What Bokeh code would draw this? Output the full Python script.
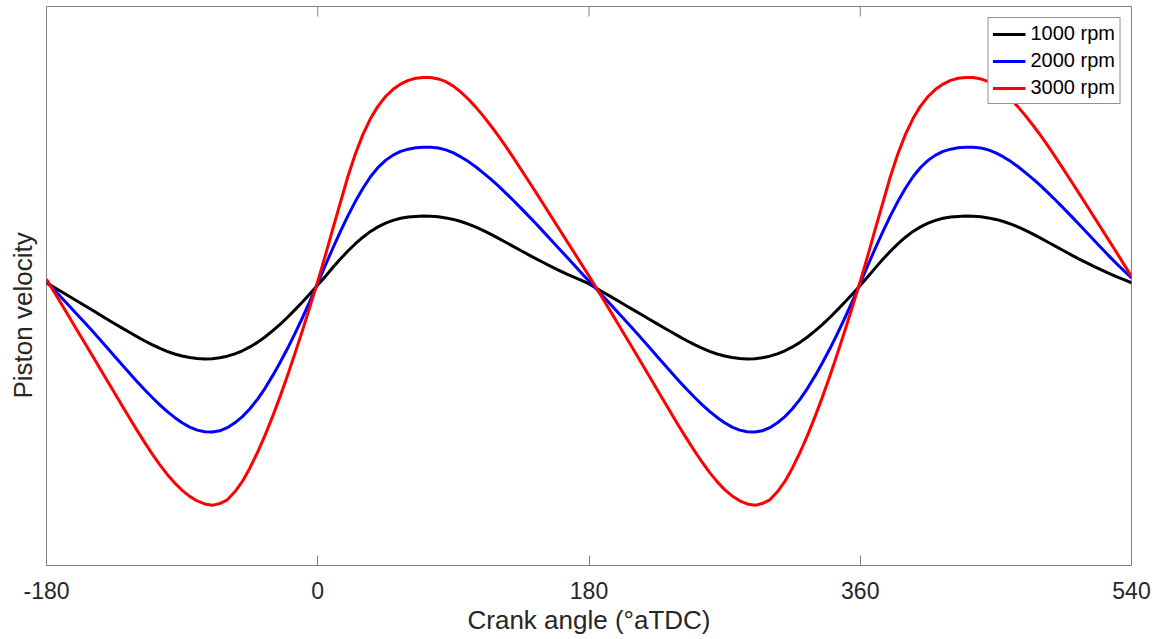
from bokeh.plotting import figure
from bokeh.models import Range1d, FixedTicker, Legend, LegendItem
from bokeh.embed import file_html
from bokeh.resources import INLINE

# ---- data (5 degree steps) ----
crank_angle = list(range(-180, 541, 5))

# 1000 rpm : first cycle -180..180, second cycle 185..540
vel_1000_a = [0.2, -0.12, -0.45, -0.78, -1.1, -1.43, -1.76, -2.09, -2.42, -2.75,
              -3.07, -3.39, -3.7, -4.0, -4.28, -4.54, -4.77, -4.96, -5.11, -5.22,
              -5.29, -5.32, -5.3,
              -5.24, -5.12, -4.95, -4.73, -4.45, -4.12, -3.73, -3.29, -2.81, -2.3,
              -1.75, -1.18, -0.58, 0.03,
              0.66, 1.3, 1.92, 2.5, 3.03, 3.5, 3.92, 4.25, 4.52, 4.72,
              4.87, 4.96, 5.01, 5.03, 5.02, 4.98, 4.9, 4.79,
              4.64, 4.45, 4.23, 3.98, 3.71, 3.42, 3.12, 2.82, 2.52, 2.22,
              1.93, 1.65, 1.37, 1.1, 0.84, 0.6, 0.37, 0.12]
vel_1000_b = [-0.2, -0.52, -0.84, -1.16, -1.48, -1.8, -2.12, -2.44, -2.76, -3.08,
              -3.39, -3.7, -4.0, -4.28, -4.54, -4.77, -4.96, -5.11, -5.22, -5.29,
              -5.32, -5.3, -5.24, -5.12, -4.95, -4.73, -4.45, -4.12, -3.73, -3.29,
              -2.81, -2.3, -1.75, -1.18, -0.59, 0.0,
              0.64, 1.28, 1.9, 2.48, 3.02, 3.5, 3.92, 4.25, 4.52, 4.72,
              4.87, 4.96, 5.01, 5.03, 5.02, 4.98, 4.9, 4.79, 4.64, 4.45,
              4.23, 3.98, 3.71, 3.42, 3.12, 2.82, 2.52, 2.22, 1.93, 1.66,
              1.39, 1.13, 0.88, 0.64, 0.42, 0.2]

# 2000 rpm
vel_2000_a = [0.27, -0.3, -0.88, -1.47, -2.06, -2.65, -3.25, -3.86, -4.48, -5.1,
              -5.72, -6.34, -6.95, -7.54, -8.1, -8.63, -9.12, -9.56, -9.95, -10.26,
              -10.48, -10.6, -10.62,
              -10.53, -10.3, -9.95, -9.5, -8.93, -8.25, -7.45, -6.55, -5.58, -4.55,
              -3.45, -2.3, -1.1, 0.17,
              1.45, 2.7, 3.9, 5.05, 6.1, 7.05, 7.88, 8.55, 9.07, 9.45,
              9.72, 9.88, 9.98, 10.02, 10.02, 9.96, 9.83, 9.61,
              9.32, 8.98, 8.59, 8.15, 7.69, 7.2, 6.68, 6.14, 5.59, 5.03,
              4.46, 3.87, 3.28, 2.69, 2.1, 1.5, 0.9, 0.33]
vel_2000_b = [-0.27, -0.86, -1.45, -2.05, -2.65, -3.25, -3.86, -4.48, -5.1, -5.72,
              -6.34, -6.95, -7.54, -8.1, -8.63, -9.12, -9.56, -9.95, -10.26, -10.48,
              -10.6, -10.62, -10.53, -10.3, -9.95, -9.5, -8.93, -8.25, -7.45, -6.55,
              -5.58, -4.55, -3.45, -2.3, -1.1, 0.17,
              1.45, 2.7, 3.9, 5.05, 6.1, 7.05, 7.88, 8.55, 9.07, 9.45,
              9.72, 9.88, 9.98, 10.02, 10.02, 9.96, 9.83, 9.61, 9.32, 8.98,
              8.59, 8.15, 7.69, 7.2, 6.68, 6.14, 5.59, 5.03, 4.46, 3.88,
              3.3, 2.72, 2.15, 1.6, 1.07, 0.55]

# 3000 rpm
vel_3000_a = [0.45, -0.45, -1.36, -2.27, -3.18, -4.09, -5.0, -5.92, -6.84, -7.76,
              -8.68, -9.59, -10.48, -11.35, -12.18, -12.96, -13.67, -14.3, -14.84, -15.28,
              -15.61, -15.83, -15.93,
              -15.8, -15.53, -14.95, -14.2, -13.22, -12.1, -10.86, -9.5, -8.05, -6.5,
              -4.88, -3.2, -1.47, 0.3,
              2.17, 4.1, 6.0, 7.9, 9.55, 10.95, 12.1, 13.0, 13.7, 14.22,
              14.6, 14.87, 15.02, 15.08, 15.07, 14.97, 14.77, 14.45,
              14.02, 13.5, 12.91, 12.26, 11.56, 10.82, 10.04, 9.23, 8.4, 7.56,
              6.71, 5.85, 4.99, 4.13, 3.27, 2.41, 1.55, 0.69]
vel_3000_b = [-0.2, -1.1, -2.0, -2.91, -3.82, -4.73, -5.65, -6.57, -7.5, -8.43,
              -9.35, -10.25, -11.13, -11.98, -12.79, -13.54, -14.21, -14.79, -15.25, -15.6,
              -15.83, -15.93, -15.8, -15.53, -14.95, -14.2, -13.22, -12.1, -10.86, -9.5,
              -8.05, -6.5, -4.88, -3.2, -1.47, 0.3,
              2.17, 4.1, 6.0, 7.9, 9.55, 10.95, 12.1, 13.0, 13.7, 14.22,
              14.6, 14.87, 15.02, 15.08, 15.07, 14.97, 14.77, 14.45, 14.02, 13.5,
              12.91, 12.26, 11.56, 10.82, 10.04, 9.23, 8.4, 7.56, 6.71, 5.85,
              4.99, 4.13, 3.27, 2.41, 1.53, 0.65]

vel_1000 = vel_1000_a + vel_1000_b
vel_2000 = vel_2000_a + vel_2000_b
vel_3000 = vel_3000_a + vel_3000_b

series_labels = ["1000 rpm", "2000 rpm", "3000 rpm"]
series_colors = ["#000000", "#0000ff", "#ff0000"]

tick_vals = [-180, 0, 180, 360, 540]
tick_labels = ["-180", "0", "180", "360", "540"]

x_label = "Crank angle (\u00b0aTDC)"
y_label = "Piston velocity"

FONT = "Liberation Sans"
AXIS_GRAY = "#808080"
TEXT_COL = "#262626"

Y0, Y1 = -20.29, 20.22
FRAME_H = 559

p = figure(frame_width=1085, frame_height=FRAME_H,
           x_range=Range1d(-180, 540), y_range=Range1d(Y0, Y1),
           output_backend="svg", toolbar_location=None,
           title=y_label, title_location="left",
           min_border_left=45, min_border_right=31,
           min_border_top=6, min_border_bottom=74)

p.grid.visible = False
p.yaxis.visible = False
p.outline_line_color = AXIS_GRAY
p.outline_line_width = 1
p.background_fill_color = "white"
p.border_fill_color = "white"

# y label, placed as a left-side title
p.title.align = "left"
p.title.offset = 167
p.title.vertical_align = "top"
p.title.standoff = 14
p.title.text_font = FONT
p.title.text_font_size = "26px"
p.title.text_font_style = "normal"
p.title.text_color = TEXT_COL

xa = p.xaxis[0]
xa.ticker = FixedTicker(ticks=tick_vals)
xa.major_label_overrides = {v: s for v, s in zip(tick_vals, tick_labels)}
xa.axis_line_color = None
xa.major_tick_in = 10
xa.major_tick_out = 0
xa.minor_tick_in = 0
xa.minor_tick_out = 0
xa.major_tick_line_color = AXIS_GRAY
xa.major_label_text_font = FONT
xa.major_label_text_font_size = "23px"
xa.major_label_text_color = TEXT_COL
xa.major_label_standoff = 16
xa.axis_label = x_label
xa.axis_label_text_font = FONT
xa.axis_label_text_font_size = "26px"
xa.axis_label_text_font_style = "normal"
xa.axis_label_text_color = TEXT_COL
xa.axis_label_standoff = 3

# mirrored tick marks on the top edge of the box (10 px long)
tick_len = 10 * (Y1 - Y0) / FRAME_H
p.segment(x0=tick_vals, y0=[Y1] * len(tick_vals),
          x1=tick_vals, y1=[Y1 - tick_len] * len(tick_vals),
          line_color=AXIS_GRAY, line_width=1)

renderers = []
for vals, col in zip([vel_1000, vel_2000, vel_3000], series_colors):
    r = p.line(crank_angle, vals, line_color=col, line_width=3,
               line_join="round")
    renderers.append(r)

legend = Legend(items=[LegendItem(label=lab, renderers=[r])
                       for lab, r in zip(series_labels, renderers)],
                location="top_right")
legend.margin = 11
legend.padding = 4
legend.spacing = 4
legend.label_standoff = 5
legend.glyph_width = 33
legend.glyph_height = 20
legend.label_height = 20
legend.label_text_font = FONT
legend.label_text_font_size = "20px"
legend.label_text_color = "#000000"
legend.border_line_color = "#262626"
legend.border_line_width = 1
legend.background_fill_color = "white"
legend.background_fill_alpha = 1
p.add_layout(legend, "center")

open("out.html", "w").write(file_html(p, INLINE))
